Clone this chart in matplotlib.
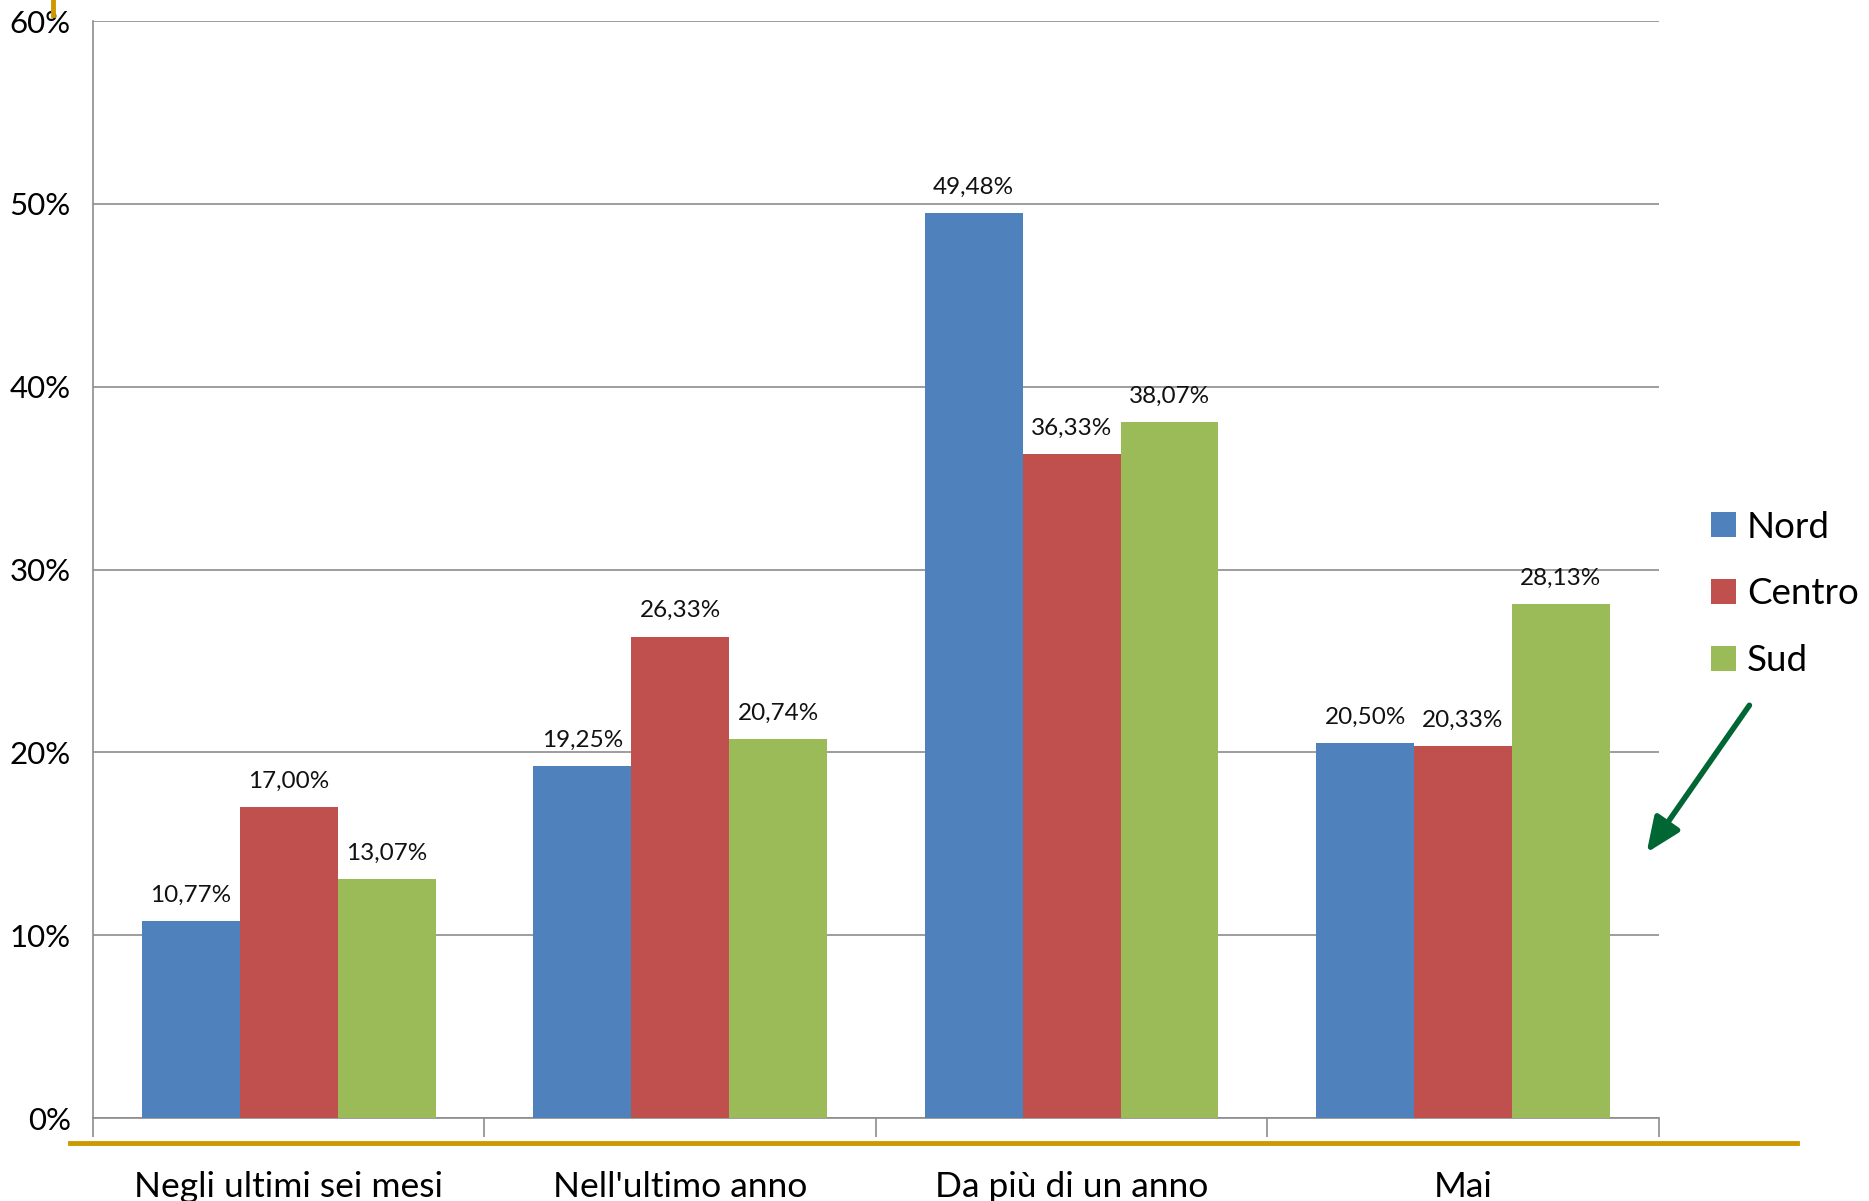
import matplotlib
matplotlib.use("Agg")
import matplotlib.pyplot as plt
from matplotlib.lines import Line2D
from matplotlib.patches import FancyArrowPatch
import numpy as np

categories = ["Negli ultimi sei mesi", "Nell'ultimo anno", "Da più di un anno", "Mai"]
series_names = ["Nord", "Centro", "Sud"]
nord = [10.77, 19.25, 49.48, 20.50]
centro = [17.00, 26.33, 36.33, 20.33]
sud = [13.07, 20.74, 38.07, 28.13]
yticks = [0, 10, 20, 30, 40, 50, 60]
colors = ["#4F81BD", "#C0504D", "#9BBB59"]

plt.rcParams['font.family'] = ['Lato', 'DejaVu Sans']

fig = plt.figure(figsize=(18.69, 12.01), dpi=100)
ax = fig.add_axes([0.0498, 0.0691, 0.8377, 0.9134])

x = np.arange(len(categories))
w = 0.25
for i, (vals, name, c) in enumerate(zip([nord, centro, sud], series_names, colors)):
    pos = x + (i - 1) * w
    ax.bar(pos, vals, width=w, color=c, label=name, zorder=3)
    for p, v in zip(pos, vals):
        ax.annotate(f"{v:.2f}%".replace(".", ","), (p, v), xytext=(0, 11),
                    textcoords="offset points", ha="center", va="bottom",
                    fontsize=17.5, color="#111111")

ax.set_xlim(-0.5, len(categories) - 0.5)
ax.set_ylim(0, 60)
ax.set_yticks(yticks)
ax.set_yticklabels([f"{t}%" for t in yticks], fontsize=22.5)
ax.yaxis.grid(True, color="#8c8c8c", linewidth=1.2, zorder=0)
ax.tick_params(axis="y", length=0, pad=16)

# category separators as x ticks
ax.set_xticks(np.arange(-0.5, len(categories)), minor=False)
ax.set_xticklabels([])
ax.tick_params(axis="x", which="major", length=14, color="#8c8c8c", width=1.2)
ax.set_xticks(x, minor=True)
ax.set_xticklabels(categories, minor=True, fontsize=25.5)
ax.tick_params(axis="x", which="minor", length=0, pad=38)

for s in ["top", "right"]:
    ax.spines[s].set_visible(False)
ax.spines["left"].set_color("#8c8c8c")
ax.spines["left"].set_linewidth(1.2)
ax.spines["bottom"].set_color("#8c8c8c")
ax.spines["bottom"].set_linewidth(1.2)

fig.legend(loc="center left", bbox_to_anchor=(1711 / 1869, 1 - 594 / 1201), frameon=False,
           fontsize=26.5, handlelength=0.68, handleheight=0.68, handletextpad=0.3,
           labelspacing=0.92, borderpad=0, borderaxespad=0)

# decorative gold lines
fig.add_artist(Line2D([70/1869, 1797/1869], [1 - 1143/1201, 1 - 1143/1201],
                      color="#CC9900", linewidth=3.5, transform=fig.transFigure))
fig.add_artist(Line2D([53/1869, 53/1869], [1.0, 1 - 15/1201],
                      color="#CC9900", linewidth=3.5, transform=fig.transFigure))

# green arrow
arr = FancyArrowPatch((1751/1869, 1 - 703/1201), (1645/1869, 1 - 855/1201),
                      transform=fig.transFigure, arrowstyle="-|>,head_length=14,head_width=6",
                      color="#006633", linewidth=4, mutation_scale=1.5)
fig.add_artist(arr)

fig.savefig("out.png", dpi=100)
